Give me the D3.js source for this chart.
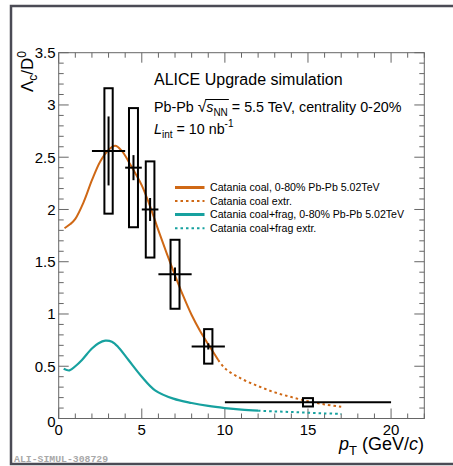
<!DOCTYPE html>
<html lang="en">
<head>
  <meta charset="UTF-8" />
  <title>Lambda_c / D0 ratio</title>
  <style>
  html, body {
    margin: 0;
    padding: 0;
    background: #fff;
  }
  svg {
    display: block;
    font-family: "Liberation Sans", Arial, sans-serif;
  }
  </style>
  <script src="https://d3js.org/d3.v7.min.js"></script>
</head>
<body>
  <div id="chart"></div>
  <script>
    // measured points: pT centre, half bin width, value, stat err, syst err, box half width
    const ptCentres = [3, 4.5, 5.5, 7, 9, 15];
    const ptHalfBins = [1, 0.5, 0.5, 1, 1, 5];
    const ratioValues = [2.56, 2.40, 2.00, 1.38, 0.69, 0.155];
    const statErrors = [0.33, 0.12, 0.11, 0.065, 0.03, 0.005];
    const systErrors = [0.6, 0.57, 0.46, 0.33, 0.165, 0.04];
    const boxHalfWidths = [0.25, 0.27, 0.26, 0.27, 0.25, 0.3];

    // Catania coalescence (solid part, then extrapolation)
    const coalX = [0.35, 0.7, 1.0, 1.5, 2.0, 2.5, 3.0, 3.4, 3.8, 4.2, 4.6, 5.0, 5.5, 6.0, 6.5, 7.0, 7.5, 8.0, 8.5, 9.0, 9.6];
    const coalY = [1.82, 1.86, 1.91, 2.07, 2.28, 2.46, 2.57, 2.61, 2.56, 2.46, 2.35, 2.23, 2.03, 1.80, 1.58, 1.37, 1.17, 0.99, 0.84, 0.71, 0.56];
    const coalExtrX = [9.6, 10, 11, 12, 13, 14, 15, 16, 17];
    const coalExtrY = [0.56, 0.48, 0.38, 0.31, 0.25, 0.205, 0.165, 0.135, 0.113];

    // Catania coalescence + fragmentation
    const fragX = [0.3, 0.65, 1.0, 1.4, 2.0, 2.4, 2.8, 3.2, 3.6, 4.2, 5.0, 5.8, 6.9, 8.0, 9.0, 10.0, 11.0, 12.0];
    const fragY = [0.475, 0.46, 0.50, 0.56, 0.67, 0.72, 0.745, 0.735, 0.68, 0.56, 0.40, 0.27, 0.19, 0.148, 0.12, 0.10, 0.085, 0.075];
    const fragExtrX = [12, 13, 14, 15, 16, 17];
    const fragExtrY = [0.075, 0.068, 0.062, 0.055, 0.049, 0.044];

    const xTicks = [0, 5, 10, 15, 20];
    const yTicks = [0, 0.5, 1, 1.5, 2, 2.5, 3, 3.5];
    const yTickLabels = ["0", "0.5", "1", "1.5", "2", "2.5", "3", "3.5"];

    const legendLabels = [
      "Catania coal, 0-80% Pb-Pb 5.02TeV",
      "Catania coal extr.",
      "Catania coal+frag, 0-80% Pb-Pb 5.02TeV",
      "Catania coal+frag extr."
    ];

    const orange = "#cf6815";
    const teal = "#17a19f";

    const width = 453, height = 466;
    const svg = d3.select("#chart").append("svg")
      .attr("width", width)
      .attr("height", height);

    // outer page frame
    svg.append("path")
      .attr("d", "M453,6 H11 V464 H453")
      .attr("fill", "none")
      .attr("stroke", "#4b4b55")
      .attr("stroke-width", 2.5);

    const x = d3.scaleLinear().domain([0, 22]).range([58.7, 424.3]);
    const y = d3.scaleLinear().domain([0, 3.5]).range([418.5, 52.7]);

    const x0 = x.range()[0], x1 = x.range()[1];
    const y0 = y.range()[0], y1 = y.range()[1];

    // axes frame + inward ticks (ROOT style, all four sides)
    const axisColor = "#666";
    const xMinor = d3.range(0, 22.01, 1);
    const yMinor = d3.range(0, 3.501, 0.1);
    const isMajor = (v, step) => Math.abs(v / step - Math.round(v / step)) < 1e-6;

    const axes = svg.append("g").attr("stroke", axisColor).attr("stroke-width", 1).attr("fill", "none");
    axes.append("rect").attr("x", x0).attr("y", y1).attr("width", x1 - x0).attr("height", y0 - y1);

    xMinor.forEach(v => {
      const len = isMajor(v, 5) ? 10 : 5;
      axes.append("line").attr("x1", x(v)).attr("x2", x(v)).attr("y1", y0).attr("y2", y0 - len);
      axes.append("line").attr("x1", x(v)).attr("x2", x(v)).attr("y1", y1).attr("y2", y1 + len);
    });
    yMinor.forEach(v => {
      const len = isMajor(v, 0.5) ? 10 : 5;
      axes.append("line").attr("x1", x0).attr("x2", x0 + len).attr("y1", y(v)).attr("y2", y(v));
      axes.append("line").attr("x1", x1).attr("x2", x1 - len).attr("y1", y(v)).attr("y2", y(v));
    });

    // tick labels
    svg.append("g").selectAll("text")
      .data(xTicks)
      .enter().append("text")
      .attr("x", d => x(d))
      .attr("y", 435)
      .attr("text-anchor", "middle")
      .attr("font-size", 15)
      .text(d => d);

    svg.append("g").selectAll("text")
      .data(yTicks)
      .enter().append("text")
      .attr("x", 55.5)
      .attr("y", (d, i) => i === 0 ? y(d) + 8 : y(d) + 5.3)
      .attr("text-anchor", "end")
      .attr("font-size", 15)
      .text((d, i) => yTickLabels[i]);

    // axis titles
    const xTitle = svg.append("text")
      .attr("x", 424)
      .attr("y", 450)
      .attr("text-anchor", "end")
      .attr("font-size", 18);
    xTitle.append("tspan").attr("font-style", "italic").text("p");
    xTitle.append("tspan").attr("font-size", 13).attr("dy", 5).text("T");
    xTitle.append("tspan").attr("dy", -5).text(" (GeV/");
    xTitle.append("tspan").attr("font-style", "italic").text("c");
    xTitle.append("tspan").text(")");

    const yTitle = svg.append("text")
      .attr("transform", "translate(33,51) rotate(-90)")
      .attr("text-anchor", "end")
      .attr("font-size", 17);
    yTitle.append("tspan").text("Λ");
    yTitle.append("tspan").attr("font-size", 12).attr("dy", 4).text("c");
    yTitle.append("tspan").attr("dy", -4).text("/D");
    yTitle.append("tspan").attr("font-size", 12).attr("dy", -7).text("0");

    // header texts
    svg.append("text")
      .attr("x", 154).attr("y", 85)
      .attr("font-size", 16)
      .text("ALICE Upgrade simulation");

    const line2 = svg.append("text")
      .attr("x", 154).attr("y", 112)
      .attr("font-size", 14.3);
    line2.append("tspan").text("Pb-Pb ");
    line2.append("tspan").attr("font-size", 15.5).text("√");
    line2.append("tspan").attr("font-style", "italic").text("s");
    line2.append("tspan").attr("font-size", 10).attr("dy", 4).text("NN");
    line2.append("tspan").attr("dy", -4).text(" = 5.5 TeV, centrality 0-20%");
    // overline of the square root
    {
      const node = line2.node();
      const start = node.getStartPositionOfChar(7).x;
      const end = node.getEndPositionOfChar(9).x;
      svg.append("line")
        .attr("x1", start - 1).attr("x2", end + 1)
        .attr("y1", 99.5).attr("y2", 99.5)
        .attr("stroke", "#000").attr("stroke-width", 1);
    }

    const line3 = svg.append("text")
      .attr("x", 154).attr("y", 134)
      .attr("font-size", 14.3);
    line3.append("tspan").attr("font-style", "italic").text("L");
    line3.append("tspan").attr("font-size", 10).attr("dy", 4).text("int");
    line3.append("tspan").attr("dy", -4).text(" = 10 nb");
    line3.append("tspan").attr("font-size", 10).attr("dy", -7).text("-1");

    // model curves
    const line = d3.line()
      .x(d => x(d[0]))
      .y(d => y(d[1]))
      .curve(d3.curveCatmullRom);

    const curves = [
      { xs: coalX, ys: coalY, color: orange, dash: null, w: 2 },
      { xs: coalExtrX, ys: coalExtrY, color: orange, dash: "2.5,3", w: 2 },
      { xs: fragX, ys: fragY, color: teal, dash: null, w: 2.2 },
      { xs: fragExtrX, ys: fragExtrY, color: teal, dash: "2.5,3", w: 2 }
    ];

    curves.forEach(c => {
      svg.append("path")
        .datum(c.xs.map((v, i) => [v, c.ys[i]]))
        .attr("d", line)
        .attr("fill", "none")
        .attr("stroke", c.color)
        .attr("stroke-width", c.w)
        .attr("stroke-dasharray", c.dash);
    });

    // data points: syst boxes, x bins, stat errors
    const points = ptCentres.map((p, i) => ({
      pt: p, hw: ptHalfBins[i], v: ratioValues[i],
      stat: statErrors[i], syst: systErrors[i], bw: boxHalfWidths[i]
    }));

    svg.selectAll(".syst-box")
      .data(points)
      .enter().append("rect")
      .attr("class", "syst-box")
      .attr("x", d => x(d.pt - d.bw))
      .attr("y", d => y(d.v + d.syst))
      .attr("width", d => x(d.pt + d.bw) - x(d.pt - d.bw))
      .attr("height", d => y(d.v - d.syst) - y(d.v + d.syst))
      .attr("fill", "none")
      .attr("stroke", "#000")
      .attr("stroke-width", 2);

    svg.selectAll(".x-bar")
      .data(points)
      .enter().append("line")
      .attr("class", "x-bar")
      .attr("x1", d => x(d.pt - d.hw))
      .attr("x2", d => x(d.pt + d.hw))
      .attr("y1", d => y(d.v))
      .attr("y2", d => y(d.v))
      .attr("stroke", "#000")
      .attr("stroke-width", 2);

    svg.selectAll(".stat-bar")
      .data(points)
      .enter().append("line")
      .attr("class", "stat-bar")
      .attr("x1", d => x(d.pt))
      .attr("x2", d => x(d.pt))
      .attr("y1", d => y(d.v + d.stat))
      .attr("y2", d => y(d.v - d.stat))
      .attr("stroke", "#000")
      .attr("stroke-width", 2);

    // legend
    const legendY = [187.5, 201, 214.5, 228.3];
    const legend = svg.append("g");
    legendLabels.forEach((label, i) => {
      const c = curves[i];
      legend.append("line")
        .attr("x1", 175).attr("x2", 204.5)
        .attr("y1", legendY[i]).attr("y2", legendY[i])
        .attr("stroke", c.color)
        .attr("stroke-width", c.dash ? 2 : 3)
        .attr("stroke-dasharray", c.dash);
      legend.append("text")
        .attr("x", 210)
        .attr("y", legendY[i] + 3.8)
        .attr("font-size", 10.6)
        .text(label);
    });

    // footer id
    svg.append("text")
      .attr("x", 14)
      .attr("y", 462)
      .attr("font-family", "'Liberation Mono', 'DejaVu Sans Mono', monospace")
      .attr("font-size", 9.8)
      .attr("font-weight", "bold")
      .attr("fill", "#a8a8a8")
      .text("ALI-SIMUL-308729");
  </script>
</body>
</html>
